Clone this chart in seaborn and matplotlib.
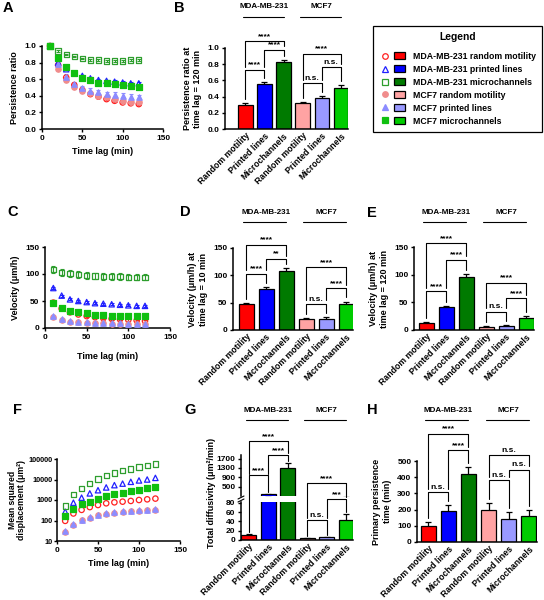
import numpy as np
import pandas as pd
import matplotlib
matplotlib.use("Agg")
import matplotlib.pyplot as plt
import matplotlib.transforms as mtrans
from matplotlib.lines import Line2D
from matplotlib.patches import Patch
from matplotlib.legend_handler import HandlerTuple
import seaborn as sns

# ==============================
# Data
# ==============================
times = [10, 20, 30, 40, 50, 60, 70, 80, 90, 100, 110, 120]

series_names = ["MDA-MB-231 random motility", "MDA-MB-231 printed lines",
                "MDA-MB-231 microchannels", "MCF7 random motility",
                "MCF7 printed lines", "MCF7 microchannels"]
conditions = ["Random motility", "Printed lines", "Microchannels"]
cell_lines = ["MDA-MB-231", "MCF7"]

# A - persistence ratio
pr_mda_rand = [1.00, 0.77, 0.62, 0.53, 0.47, 0.42, 0.39, 0.36, 0.34, 0.32, 0.31, 0.30]
pr_mda_print = [1.00, 0.80, 0.72, 0.67, 0.64, 0.61, 0.59, 0.58, 0.57, 0.56, 0.55, 0.55]
pr_mda_micro = [1.00, 0.94, 0.90, 0.87, 0.85, 0.83, 0.83, 0.82, 0.82, 0.82, 0.83, 0.83]
pr_mcf_rand = [1.00, 0.72, 0.59, 0.51, 0.46, 0.43, 0.40, 0.38, 0.36, 0.34, 0.33, 0.32]
pr_mcf_print = [1.00, 0.78, 0.63, 0.54, 0.49, 0.46, 0.44, 0.42, 0.41, 0.40, 0.39, 0.38]
pr_mcf_micro = [1.00, 0.86, 0.75, 0.68, 0.62, 0.59, 0.56, 0.55, 0.54, 0.53, 0.52, 0.51]
pr_err = [0.012, 0.015, 0.008, 0.012, 0.03, 0.015]

# C - velocity (um/h)
v_mda_rand = [47, 36, 29, 25, 22, 20, 18, 17, 16, 15, 14, 13]
v_mda_print = [74, 60, 53, 50, 48, 46, 45, 44, 43, 42, 41, 41]
v_mda_micro = [108, 103, 101, 99, 97, 96, 95, 95, 95, 94, 94, 94]
v_mcf_rand = [20, 15, 12, 11, 10, 9, 8.5, 8, 7.5, 7, 7, 6.5]
v_mcf_print = [22, 16, 13, 12, 11, 10, 9.5, 9, 8.5, 8, 8, 7.5]
v_mcf_micro = [47, 37, 32, 29, 27, 25, 24, 23, 23, 22, 22, 22]
v_err = [1.5, 2.0, 6.0, 1.0, 1.5, 2.0]

# F - mean squared displacement (um^2)
msd_mda_rand = [96, 220, 330, 450, 570, 690, 770, 830, 900, 1000, 1080, 1170]
msd_mda_print = [270, 740, 1300, 2100, 3000, 4100, 5300, 6300, 7700, 9000, 10000, 12000]
msd_mda_micro = [500, 1900, 3700, 6600, 10500, 16000, 20500, 27000, 32000, 41000, 49000, 57000]
msd_mcf_rand = [29, 61, 104, 135, 176, 215, 240, 260, 280, 300, 310, 320]
msd_mcf_print = [32, 66, 110, 145, 185, 225, 255, 280, 300, 320, 330, 370]
msd_mcf_micro = [160, 360, 620, 830, 1170, 1520, 1900, 2300, 2800, 3200, 3700, 4500]

# bar panels: mean and error, order = MDA (rand, print, micro), MCF7 (rand, print, micro)
persist_120 = [0.30, 0.55, 0.83, 0.32, 0.38, 0.51]
persist_120_err = [0.015, 0.03, 0.025, 0.015, 0.03, 0.035]
vel_10 = [47, 75, 108, 20, 21, 47]
vel_10_err = [2, 3, 6, 1.5, 2, 5]
vel_120 = [13, 41, 95, 6, 8, 22]
vel_120_err = [1, 3, 6, 0.8, 1, 2.5]
diffusivity = [11, 180, 1300, 4, 6, 43]
diffusivity_err = [2, 25, 220, 1, 1, 14]
persist_time = [97, 190, 418, 200, 143, 160]
persist_time_err = [25, 40, 45, 40, 40, 38]

# significance brackets (bar i, bar j, height, label)
sig_B = [(0, 2, 1.085, "****"), (1, 2, 0.98, "****"), (0, 1, 0.73, "****"),
         (3, 5, 0.93, "****"), (4, 5, 0.76, "n.s."), (3, 4, 0.57, "n.s.")]
sig_D = [(0, 2, 156, "****"), (1, 2, 130, "**"), (0, 1, 103, "****"),
         (3, 5, 115, "****"), (4, 5, 76, "****"), (3, 4, 48, "n.s.")]
sig_E = [(0, 2, 157, "****"), (1, 2, 127, "****"), (0, 1, 70, "****"),
         (3, 5, 85, "****"), (4, 5, 57, "****"), (3, 4, 33, "n.s.")]
sig_G = [(0, 2, 213, "****"), (1, 2, 184, "****"), (0, 1, 140, "****"),
         (3, 5, 124, "****"), (4, 5, 89, "***"), (3, 4, 44, "n.s.")]
sig_H = [(0, 2, 669, "****"), (1, 2, 566, "****"), (0, 1, 309, "n.s."),
         (3, 5, 535, "n.s."), (4, 5, 447, "n.s."), (3, 4, 381, "n.s.")]

# ==============================
# Style
# ==============================
marker_colors = ["#FF2020", "#2020FF", "#2E9E2E", "#F08C8C", "#8C8CFF", "#10C010"]
marker_shapes = ["o", "^", "s", "o", "^", "s"]
marker_open = [True, True, True, False, False, False]
bar_colors = ["#FF0000", "#0000FF", "#007A00", "#FFA3A3", "#9999FF", "#00CC00"]

sns.set_style("ticks")
plt.rcParams["font.family"] = ["Liberation Sans", "DejaVu Sans"]
plt.rcParams["font.weight"] = "bold"
plt.rcParams["axes.labelweight"] = "bold"
plt.rcParams["axes.linewidth"] = 1.1
plt.rcParams["xtick.major.width"] = 1.0
plt.rcParams["ytick.major.width"] = 1.0
plt.rcParams["xtick.major.size"] = 2.5
plt.rcParams["ytick.major.size"] = 2.5
plt.rcParams["xtick.labelsize"] = 6
plt.rcParams["ytick.labelsize"] = 6
plt.rcParams["axes.labelsize"] = 6.5
plt.rcParams["axes.edgecolor"] = "black"
plt.rcParams["xtick.color"] = "black"
plt.rcParams["ytick.color"] = "black"
plt.rcParams["text.color"] = "black"
plt.rcParams["axes.labelcolor"] = "black"

W, H = 544, 600
fig = plt.figure(figsize=(W / 100, H / 100), dpi=100)


def axbox(x0, y0, x1, y1):
    return fig.add_axes([x0 / W, 1 - y1 / H, (x1 - x0) / W, (y1 - y0) / H])


def clean(ax):
    sns.despine(ax=ax)
    ax.tick_params(pad=1.5)


def time_panel(ax, series, errs=None):
    for k, vals in enumerate(series):
        c = marker_colors[k]
        if errs is not None:
            ax.errorbar(times, vals, yerr=errs[k], fmt="none", ecolor=c,
                        elinewidth=0.8, capsize=1.5, capthick=0.8, zorder=1)
        sns.scatterplot(x=times, y=vals, marker=marker_shapes[k], s=15,
                        facecolor="none" if marker_open[k] else c,
                        edgecolor=c, linewidth=0.9, ax=ax, zorder=3,
                        clip_on=False)
    ax.set_xlim(0, 150)
    ax.set_xticks([0, 50, 100, 150])
    ax.set_xlabel("Time lag (min)")
    clean(ax)


def bar_panel(ax, vals, errs, xlim):
    keys = [f"{g} {c}" for g in cell_lines for c in conditions]
    df = pd.DataFrame({"key": keys, "val": vals})
    sns.barplot(data=df, x="key", y="val", hue="key", order=keys,
                hue_order=keys, palette=bar_colors, saturation=1,
                width=0.75, edgecolor="black", linewidth=0.9,
                errorbar=None, legend=False, ax=ax, zorder=2)
    ax.errorbar(range(6), vals, yerr=errs, fmt="none", ecolor="black",
                elinewidth=0.9, capsize=2.2, capthick=0.9, zorder=1)
    ax.set_xticks(range(6))
    ax.set_xticklabels(conditions * 2, rotation=45, ha="right",
                       rotation_mode="anchor", fontsize=6.3)
    ax.tick_params(axis="x", length=0, pad=2.5)
    ax.set_xlabel("")
    ax.set_xlim(*xlim)
    clean(ax)


def brackets(ax, tops, sig, rng):
    pad = 0.05 * rng
    gap = 0.04 * rng
    for i, j, h, lab in sig:
        legs = []
        for k in (i, j):
            base = tops[k] + pad
            for a, b, h2, _ in sig:
                if h2 < h and k in (a, b):
                    base = max(base, h2 + gap)
            legs.append(base)
        ax.plot([i, i, j, j], [legs[0], h, h, legs[1]], color="black",
                lw=0.8, clip_on=False, zorder=4)
        ax.text((i + j) / 2, h + 0.015 * rng, lab, ha="center", va="bottom",
                fontsize=6, fontweight="bold", clip_on=False)


def group_headers(ax, y_text, y_line):
    tr = mtrans.blended_transform_factory(ax.transData, fig.transFigure)
    for name, (a, b) in zip(cell_lines, [(0, 2), (3, 5)]):
        ax.text((a + b) / 2, 1 - y_text / H, name, transform=tr,
                ha="center", va="center", fontsize=5.8, fontweight="bold")
        fig.add_artist(Line2D([a - 0.15, b], [1 - y_line / H] * 2,
                              transform=tr, color="black", lw=0.8))


def tops_of(vals, errs):
    return [v + e for v, e in zip(vals, errs)]


# ==============================
# A - persistence ratio over time
# ==============================
axA = axbox(42, 46, 163, 129)
time_panel(axA, [pr_mda_rand, pr_mda_print, pr_mda_micro,
                 pr_mcf_rand, pr_mcf_print, pr_mcf_micro], pr_err)
axA.set_ylim(0, 1.0)
axA.set_yticks(np.arange(0, 1.01, 0.2))
axA.yaxis.set_major_formatter(matplotlib.ticker.FormatStrFormatter("%.1f"))
axA.set_ylabel("Persistence ratio")

# ==============================
# B - persistence ratio at 120 min
# ==============================
axB = axbox(225, 48, 348, 129)
bar_panel(axB, persist_120, persist_120_err, (-1.07, 5.38))
axB.set_ylim(0, 1.0)
axB.set_yticks(np.arange(0, 1.01, 0.2))
axB.yaxis.set_major_formatter(matplotlib.ticker.FormatStrFormatter("%.1f"))
axB.set_ylabel("Persistence ratio at\ntime lag = 120 min", multialignment="center")
brackets(axB, tops_of(persist_120, persist_120_err), sig_B, 1.0)
group_headers(axB, 7, 17)

# ==============================
# C - velocity over time
# ==============================
axC = axbox(45, 247, 170, 328)
time_panel(axC, [v_mda_rand, v_mda_print, v_mda_micro,
                 v_mcf_rand, v_mcf_print, v_mcf_micro], v_err)
axC.set_ylim(0, 150)
axC.set_yticks([0, 50, 100, 150])
axC.set_ylabel("Velocity (μm/h)")
axC.xaxis.labelpad = 8

# ==============================
# D - velocity at 10 min
# ==============================
axD = axbox(233, 248, 353, 330)
bar_panel(axD, vel_10, vel_10_err, (-0.65, 5.35))
axD.set_ylim(0, 150)
axD.set_yticks([0, 50, 100, 150])
axD.set_ylabel("Velocity (μm/h) at\ntime lag = 10 min", multialignment="center")
brackets(axD, tops_of(vel_10, vel_10_err), sig_D, 150)
group_headers(axD, 213, 222)

# ==============================
# E - velocity at 120 min
# ==============================
axE = axbox(414, 247, 534, 330)
bar_panel(axE, vel_120, vel_120_err, (-0.6, 5.4))
axE.set_ylim(0, 150)
axE.set_yticks([0, 50, 100, 150])
axE.set_ylabel("Velocity (μm/h) at\ntime lag = 120 min", multialignment="center")
brackets(axE, tops_of(vel_120, vel_120_err), sig_E, 150)
group_headers(axE, 213, 222)

# ==============================
# F - MSD
# ==============================
axF = axbox(57, 459, 180, 541)
time_panel(axF, [msd_mda_rand, msd_mda_print, msd_mda_micro,
                 msd_mcf_rand, msd_mcf_print, msd_mcf_micro])
axF.set_yscale("log")
axF.set_ylim(10, 100000)
axF.set_yticks([10, 100, 1000, 10000, 100000])
axF.set_yticklabels(["10", "100", "1000", "10000", "100000"])
axF.yaxis.set_minor_locator(matplotlib.ticker.NullLocator())
axF.tick_params(axis="y", labelsize=5.3, pad=1)
axF.set_ylabel("Mean squared\ndisplacement (μm²)", multialignment="center",
               fontsize=6.2, linespacing=1.0, labelpad=1.5)

# ==============================
# G - total diffusivity (broken axis)
# ==============================
axG_up = axbox(241, 455, 353, 496)
axG_lo = axbox(241, 502, 353, 540)
bar_panel(axG_up, diffusivity, diffusivity_err, (-0.4, 5.35))
bar_panel(axG_lo, diffusivity, diffusivity_err, (-0.4, 5.35))
axG_up.set_ylim(100, 1850)
axG_up.set_yticks([500, 900, 1300, 1700])
axG_up.spines["bottom"].set_visible(False)
axG_up.set_xticks([])
axG_up.set_ylabel("")
axG_lo.set_ylim(0, 82)
axG_lo.set_yticks([0, 20, 40, 60, 80])
axG_lo.set_ylabel("")
for yb in (497.5, 500.5):
    fig.add_artist(Line2D([238 / W, 244 / W], [1 - (yb + 1.5) / H, 1 - (yb - 1.5) / H],
                          color="black", lw=0.8))
fig.text(212 / W, 1 - 493 / H, "Total diffusivity (μm²/min)", rotation=90,
         ha="center", va="center", fontsize=6.5, fontweight="bold")


def to_lower(v):
    disp = axG_up.transData.transform((0, v))[1]
    return axG_lo.transData.inverted().transform((0, disp))[1]


tops_G = [t if t <= 82 else to_lower(t) for t in tops_of(diffusivity, diffusivity_err)]
brackets(axG_lo, tops_G, sig_G, 82)
group_headers(axG_lo, 410, 420)

# ==============================
# H - primary persistence time
# ==============================
axH = axbox(417, 461, 537, 542)
bar_panel(axH, persist_time, persist_time_err, (-0.55, 5.4))
axH.set_ylim(0, 500)
axH.set_yticks([0, 100, 200, 300, 400, 500])
axH.set_ylabel("Primary persistence\ntime (min)", multialignment="center")
brackets(axH, tops_of(persist_time, persist_time_err), sig_H, 500)
group_headers(axH, 410, 420)

# ==============================
# Panel letters
# ==============================
for lab, x, y in [("A", 3, 8), ("B", 174, 8), ("C", 7, 212), ("D", 180, 212),
                  ("E", 367, 213), ("F", 13, 410), ("G", 184, 410), ("H", 367, 410)]:
    fig.text(x / W, 1 - y / H, lab, fontsize=10.5, fontweight="bold",
             ha="left", va="center")

# ==============================
# Legend
# ==============================
handles = []
for k in range(6):
    mk = Line2D([], [], marker=marker_shapes[k], linestyle="none", markersize=4,
                markerfacecolor="none" if marker_open[k] else marker_colors[k],
                markeredgecolor=marker_colors[k], markeredgewidth=0.9)
    pt = Patch(facecolor=bar_colors[k], edgecolor="black", linewidth=0.9)
    handles.append((mk, pt))
leg = fig.legend(handles=handles, labels=series_names,
                 handler_map={tuple: HandlerTuple(ndivide=None, pad=0.4)},
                 loc="upper left", bbox_to_anchor=(373 / W, 1 - 26 / H),
                 frameon=True, fancybox=False, edgecolor="black",
                 fontsize=6.3, title="Legend",
                 title_fontproperties={"weight": "bold", "size": 7.4},
                 handlelength=3.0, handleheight=0.8, handletextpad=0.9,
                 labelspacing=0.45, borderpad=0.7, borderaxespad=0)
leg.get_frame().set_linewidth(0.9)
leg.get_frame().set_alpha(1)
leg._legend_box.sep = 7

fig.canvas.draw()
bb = leg.get_title().get_window_extent()
fig.add_artist(Line2D([bb.x0, bb.x1], [bb.y0 - 0.5, bb.y0 - 0.5],
                      transform=mtrans.IdentityTransform(), color="black", lw=0.8))

fig.savefig("out.png", dpi=100)
